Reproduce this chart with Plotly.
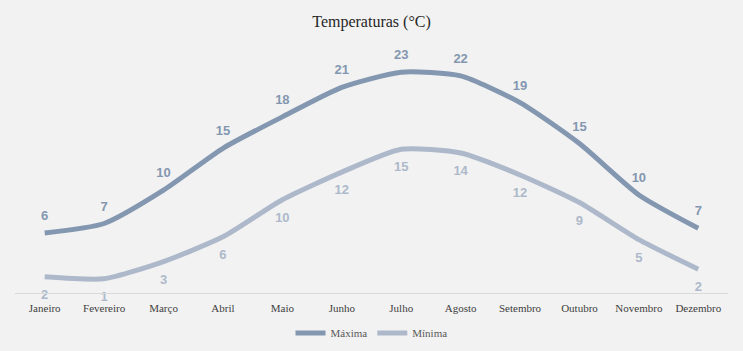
import plotly.graph_objects as go

months = ["Janeiro", "Fevereiro", "Março", "Abril", "Maio", "Junho",
          "Julho", "Agosto", "Setembro", "Outubro", "Novembro", "Dezembro"]
maxima = [6.3, 7.3, 10.8, 15.2, 18.5, 21.6, 23.2, 22.8, 20.0, 15.7, 10.3, 6.8]
minima = [1.7, 1.5, 3.3, 5.9, 9.8, 12.7, 15.1, 14.7, 12.4, 9.5, 5.6, 2.5]
maxima_labels = ["6", "7", "10", "15", "18", "21", "23", "22", "19", "15", "10", "7"]
minima_labels = ["2", "1", "3", "6", "10", "12", "15", "14", "12", "9", "5", "2"]

c_max = "#8497b0"
c_min = "#adb9ca"
label_font = "Liberation Sans, Arial, sans-serif"
serif = "Liberation Serif, Times New Roman, serif"

fig = go.Figure()
fig.add_trace(go.Scatter(
    x=months, y=maxima, name="Máxima", mode="lines+markers+text",
    line=dict(color=c_max, width=5, shape="spline", smoothing=0.6),
    marker=dict(size=14, color="rgba(0,0,0,0)"),
    text=maxima_labels, textposition="top center", cliponaxis=False,
    textfont=dict(family=label_font, size=13, color=c_max, weight="bold"),
    hoverinfo="skip",
))
fig.add_trace(go.Scatter(
    x=months, y=minima, name="Mínima", mode="lines+markers+text",
    line=dict(color=c_min, width=5, shape="spline", smoothing=0.6),
    marker=dict(size=18, color="rgba(0,0,0,0)"),
    text=minima_labels, textposition="bottom center", cliponaxis=False,
    textfont=dict(family=label_font, size=13, color=c_min, weight="bold"),
    hoverinfo="skip",
))

fig.update_layout(
    width=743, height=351,
    margin=dict(l=15, r=15, t=55, b=58, autoexpand=False),
    paper_bgcolor="#f2f2f2", plot_bgcolor="#f2f2f2",
    title=dict(text="Temperaturas (°C)", x=0.5, xanchor="center", y=0.94, yanchor="middle",
               font=dict(family=serif, size=16, color="#262626")),
    showlegend=True,
    legend=dict(orientation="h", x=0.5, xanchor="center", y=-0.168, yanchor="middle",
                font=dict(family=serif, size=11, color="#595959"),
                bgcolor="rgba(0,0,0,0)", itemwidth=30),
    xaxis=dict(range=[-0.5, 11.5], showgrid=False, showline=True, linecolor="#d9d9d9",
               linewidth=1, ticks="", automargin=False, ticklabelstandoff=5,
               tickfont=dict(family=serif, size=11, color="#404040", weight="normal"),
               fixedrange=True),
    yaxis=dict(range=[0, 25], showgrid=False, zeroline=False, showticklabels=False,
               showline=False, fixedrange=True, automargin=False),
)

fig.write_html("out.html")
